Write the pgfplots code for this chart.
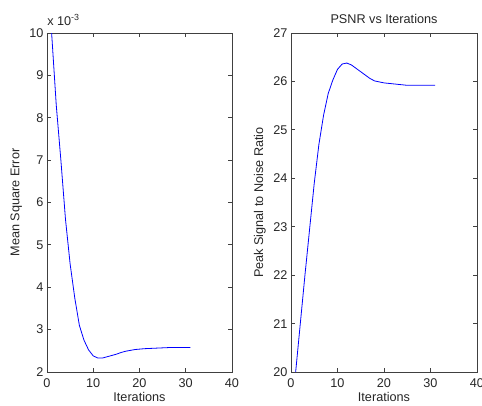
\documentclass[border=0pt]{standalone}
\usepackage{fontspec}
\setmainfont{Liberation Sans}
\usepackage{pgfplots}
\usepackage{pgfplotstable}
\pgfplotsset{compat=1.18}

% MSE (in units of 1e-3) per iteration
\pgfplotstableread{
it mse
1 10.0
2 8.3
3 7.0
4 5.6
5 4.55
6 3.75
7 3.1
8 2.75
9 2.52
10 2.38
11 2.33
12 2.33
13 2.36
14 2.39
15 2.42
16 2.46
17 2.49
18 2.51
19 2.53
20 2.54
21 2.55
22 2.555
23 2.56
24 2.565
25 2.57
26 2.575
27 2.58
28 2.58
29 2.58
30 2.58
31 2.58
}\msedata

% PSNR per iteration
\pgfplotstableread{
it psnr
1 20.0
2 21.0
3 22.0
4 22.95
5 23.9
6 24.7
7 25.3
8 25.75
9 26.03
10 26.25
11 26.36
12 26.38
13 26.34
14 26.27
15 26.2
16 26.13
17 26.06
18 26.01
19 25.99
20 25.97
21 25.96
22 25.95
23 25.94
24 25.93
25 25.92
26 25.92
27 25.92
28 25.92
29 25.92
30 25.92
31 25.92
}\psnrdata

\definecolor{mblue}{RGB}{0,0,255}

\pgfplotsset{
  matstyle/.style={
    scale only axis,
    height=254.25pt,
    xmin=0, xmax=40, xtick={0,10,20,30,40},
    tick align=inside, xtick pos=both, ytick pos=both,
    major tick length=3pt,
    clip mode=individual,
    axis line style={black!75, line width=0.6pt},
    tick style={black!75, line width=0.6pt},
    /pgf/number format/assume math mode=true,
    every tick label/.append style={font=\fontsize{9.5}{11}\selectfont, text=black!85},
    xticklabel style={anchor=base, inner sep=0pt, yshift=-11.8pt},
    yticklabel style={anchor=east, inner sep=0pt, xshift=-2.5pt},
    label style={font=\fontsize{9.5}{11}\selectfont, text=black!85},
    xlabel style={at={(axis description cs:0.5,0)}, anchor=base, yshift=-21.75pt},
    ylabel style={at={(axis description cs:-0.15,0.5)}, anchor=base},
    every axis title shift=0pt,
    title style={at={(axis description cs:0.5,1.0295)}, anchor=base, inner sep=0pt,
                 font=\fontsize{9.5}{11}\selectfont, text=black!85},
    xlabel={Iterations},
  }
}

\begin{document}
\begin{tikzpicture}
\useasboundingbox (0,0) rectangle (361.5pt,303.75pt);

\begin{axis}[matstyle,
  at={(35.25pt,24.75pt)}, anchor=south west,
  width=138.75pt,
  ymin=2, ymax=10, ytick={2,3,4,5,6,7,8,9,10},
  ylabel={Mean Square Error},
]
\addplot[mblue, line width=0.6pt] table[x=it, y=mse] {\msedata};
\node[anchor=base west, inner sep=0pt, font=\fontsize{9.5}{11}\selectfont, text=black!85]
  at (axis description cs:0,1.021) {x 10\textsuperscript{-3}};
\end{axis}

\begin{axis}[matstyle,
  at={(218.25pt,24.75pt)}, anchor=south west,
  width=139.5pt,
  ymin=20, ymax=27, ytick={20,21,22,23,24,25,26,27},
  ylabel={Peak Signal to Noise Ratio},
  title={PSNR vs Iterations},
]
\addplot[mblue, line width=0.6pt] table[x=it, y=psnr] {\psnrdata};
\end{axis}
\end{tikzpicture}
\end{document}
